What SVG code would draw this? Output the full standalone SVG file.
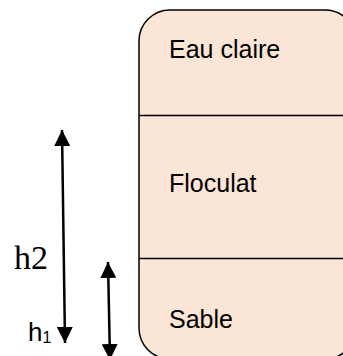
<svg xmlns="http://www.w3.org/2000/svg" width="343" height="356" viewBox="0 0 343 356">
<style>
.lbl{font-family:"Liberation Sans",Arial,sans-serif;font-size:25px;fill:#000}
.box{fill:#FBE5D6;stroke:#000;stroke-width:1.5}
.div{stroke:#000;stroke-width:1.5}
.arr{stroke:#000;stroke-width:2.5;fill:none;marker-start:url(#ah);marker-end:url(#ah)}
</style>
<defs>
<marker id="ah" markerUnits="userSpaceOnUse" viewBox="0 0 16 16" refX="16" refY="8" markerWidth="16" markerHeight="16" orient="auto-start-reverse">
<path d="M0,0 L16,8 L0,16 Z" fill="#000"/>
</marker>
</defs>
<g id="container">
<rect class="box" x="139" y="10" width="217" height="349" rx="31" ry="31"/>
<line class="div" x1="139" y1="115.5" x2="356" y2="115.5"/>
<line class="div" x1="139" y1="258.5" x2="356" y2="258.5"/>
</g>
<g id="eau-claire"><text class="lbl" x="169" y="58">Eau claire</text></g>
<g id="floculat"><text class="lbl" x="169" y="192">Floculat</text></g>
<g id="sable"><text class="lbl" x="169" y="328">Sable</text></g>
<g id="connectors">
<line class="arr" x1="62" y1="130" x2="65" y2="343"/>
<line class="arr" x1="108" y1="262" x2="110" y2="360"/>
</g>
<g id="h2"><text x="14" y="269" style="font-family:'Liberation Serif','Times New Roman',serif;font-size:34px">h2</text></g>
<g id="h1"><text x="28" y="341" style="font-family:'Liberation Sans',Arial,sans-serif;font-size:26px">h<tspan dy="2" style="font-size:16px">1</tspan></text></g>
</svg>
